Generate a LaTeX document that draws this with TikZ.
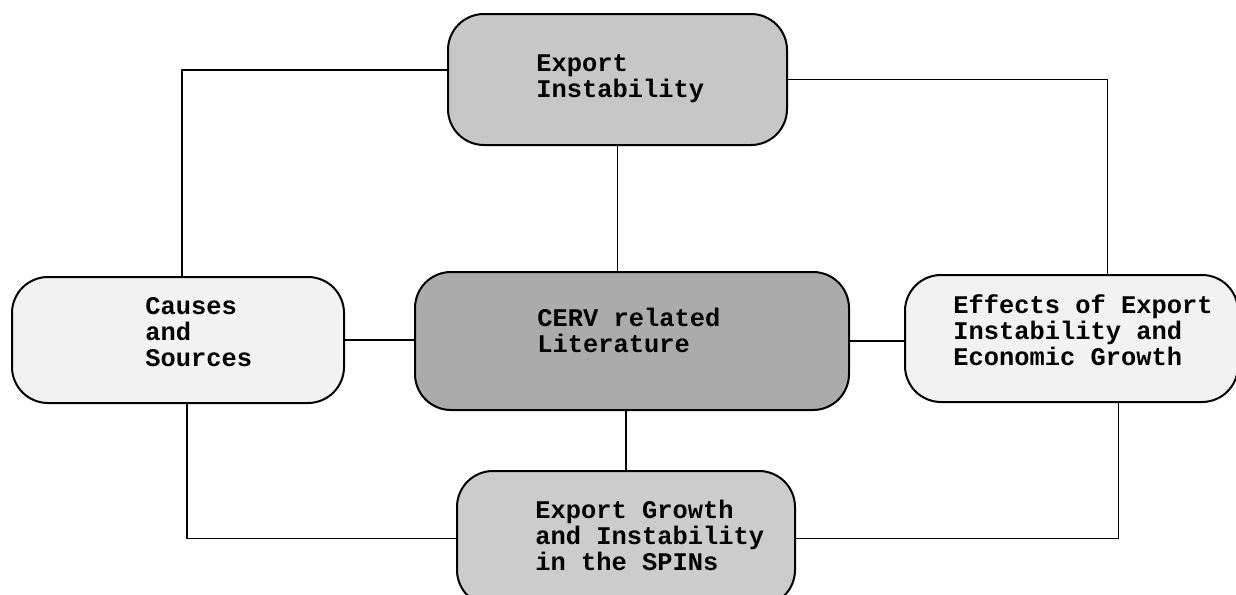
\documentclass[tikz,border=0pt]{standalone}
\usepackage{fontspec}
\setmonofont{Liberation Mono}
\usetikzlibrary{fit}
\definecolor{topfill}{gray}{0.78}
\definecolor{midfill}{gray}{0.67}
\definecolor{botfill}{gray}{0.80}
\definecolor{sidefill}{gray}{0.95}
\begin{document}
\begin{tikzpicture}[x=0.5pt,y=-0.5pt,
  box/.style={draw=black,line width=1pt,rounded corners=18pt,inner sep=0pt},
  lbl/.style={anchor=base west,inner sep=0pt,align=left,
    font=\fontsize{12.7}{13}\selectfont\ttfamily\bfseries},
  conn/.style={draw=black,line width=0.8pt}]
\useasboundingbox (0,0) rectangle (1236,594);
\node[box,fill=topfill,fit={(448,14) (787,145)}] (top) {};
\node[box,fill=midfill,fit={(415,272) (849,410)}] (center) {};
\node[box,fill=sidefill,fit={(12,277) (344,403)}] (left) {};
\node[box,fill=sidefill,fit={(905,275) (1238,402)}] (right) {};
\node[box,fill=botfill,fit={(457,471) (795,606)}] (bottom) {};
\node[lbl] (ttop) at (536,97) {Export\\Instability};
\node[lbl] (tcenter) at (537,352) {CERV related\\Literature};
\node[lbl] (tleft) at (145,366) {Causes\\and\\Sources};
\node[lbl] (tright) at (953,365) {Effects of Export\\Instability and\\Economic Growth};
\node[lbl] (tbottom) at (535,570) {Export Growth\\and Instability\\in the SPINs};
\draw[conn] ([yshift=4.75pt]top.west) -| ([xshift=2pt]left.north);
\draw[conn] (top.east) -| ([xshift=18pt]right.north);
\draw[conn] (top.south) -- (top.south |- center.north);
\draw[conn] (left.east) -- (left.east -| center.west);
\draw[conn] (center.east) -- (center.east -| right.west);
\draw[conn] (bottom.north |- center.south) -- (bottom.north);
\draw[conn] ([xshift=4.5pt]left.south) |- (bottom.west);
\draw[conn] ([xshift=23.5pt]right.south) |- (bottom.east);
\end{tikzpicture}
\end{document}
